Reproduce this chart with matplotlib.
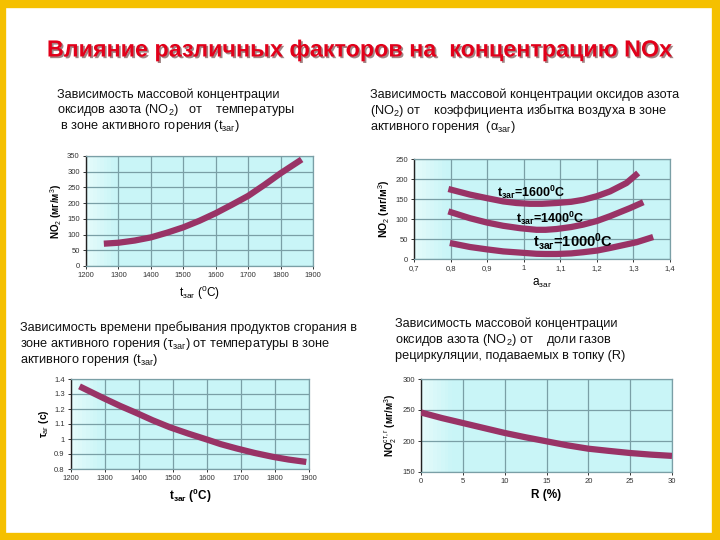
import matplotlib
matplotlib.use("Agg")
import matplotlib.pyplot as plt
import numpy as np
from matplotlib.patches import Rectangle
import matplotlib.patheffects as pe

plt.rcParams['font.family'] = ['Liberation Sans', 'DejaVu Sans']
plt.rcParams['mathtext.fontset'] = 'custom'
plt.rcParams['mathtext.rm'] = 'Liberation Sans'
plt.rcParams['mathtext.it'] = 'Liberation Sans'
plt.rcParams['mathtext.bf'] = 'Liberation Sans:bold'

# ---- data ----
tl_x = [1255, 1300, 1350, 1400, 1450, 1500, 1550, 1600, 1650, 1700, 1750, 1800, 1865]
tl_y = [71, 74, 81, 91, 106, 123, 144, 168, 195, 223, 258, 295, 339]

tr_x1 = [0.794, 0.853, 0.90, 0.944, 0.98, 1.017, 1.05, 1.09, 1.13, 1.163, 1.20, 1.236, 1.281, 1.313]
tr_y1 = [175, 161, 152, 144, 140, 138, 138, 140, 143, 148, 157, 169, 190, 215]
tr_x2 = [0.794, 0.853, 0.90, 0.944, 0.99, 1.035, 1.06, 1.09, 1.13, 1.163, 1.20, 1.236, 1.29, 1.327]
tr_y2 = [119, 102, 91, 83, 77, 73, 73, 75, 80, 86, 95, 107, 127, 142]
tr_x3 = [0.798, 0.853, 0.90, 0.944, 0.99, 1.035, 1.06, 1.09, 1.13, 1.163, 1.20, 1.236, 1.309, 1.354]
tr_y3 = [40, 30, 24, 19, 16, 13, 12.5, 12.5, 14, 17, 21, 27.5, 42, 55]
tr_labels = [r'$\mathbf{t_{заг}}$=1600$\mathbf{^0}$C', r'$\mathbf{t_{заг}}$=1400$\mathbf{^0}$C',
             r'$\mathbf{t_{заг}}$=1000$\mathbf{^0}$C']

bl_x = [1225, 1260, 1296, 1345, 1394, 1440, 1491, 1545, 1599, 1640, 1687, 1740, 1794, 1840, 1892]
bl_y = [1.351, 1.312, 1.272, 1.220, 1.172, 1.125, 1.078, 1.036, 0.997, 0.966, 0.937, 0.907, 0.881, 0.863, 0.847]

br_x = [0, 2.5, 5, 7.5, 10, 12.5, 15, 17.5, 20, 22.5, 25, 27.5, 30]
br_y = [246, 237, 229, 221, 213, 206, 199.5, 193, 187.6, 184, 180.6, 178, 176]

LINE = '#993366'
GRID = '#7a9fa6'
BG = '#c9f5f7'

fig = plt.figure(figsize=(7.2, 5.4), dpi=100)
fig.patch.set_facecolor('white')

# yellow slide frame
fig.add_artist(Rectangle((0.003, 0.005), 0.991, 0.988, transform=fig.transFigure,
                         fill=False, edgecolor='#f5c000', linewidth=6))

fig.text(0.5, 1 - 50 / 540, 'Влияние различных факторов на  концентрацию NOx',
         ha='center', va='center', fontsize=16.8, fontweight='bold', color='#e2001a',
         path_effects=[pe.withSimplePatchShadow(offset=(1.2, -1.2), shadow_rgbFace='#552222', alpha=0.55)])


def cap(x, ys, lines, fs=9.2):
    for y, t in zip(ys, lines):
        fig.text(x / 720, 1 - y / 540, t, ha='left', va='center', fontsize=fs, color='#111111')


cap(57, [95, 110, 126], ['Зависимость массовой концентрации',
                         r'оксидов азота (NO$_2$)   от    температуры',
                         r' в зоне активного горения (t$_{заг}$)'])
cap(370, [95, 111, 127], ['Зависимость массовой концентрации оксидов азота',
                          r'(NO$_2$) от    коэффициента избытка воздуха в зоне',
                          r'активного горения  (α$_{заг}$)'])
cap(20, [328, 344, 360], ['Зависимость времени пребывания продуктов сгорания в',
                          r'зоне активного горения (τ$_{заг}$) от температуры в зоне',
                          r'активного горения (t$_{заг}$)'])
cap(395, [324, 340, 356], ['Зависимость массовой концентрации',
                           r'оксидов азота (NO$_2$) от    доли газов',
                           'рециркуляции, подаваемых в топку (R)'])


def mkax(px):
    l, r, t, b = px
    ax = fig.add_axes([l / 720, 1 - b / 540, (r - l) / 720, (b - t) / 540])
    ax.set_facecolor(BG)
    grad = np.linspace(0, 1, 64).reshape(1, -1)
    grad = np.clip(grad * 8, 0, 1)
    ax.imshow(grad, extent=[0, 1, 0, 1], transform=ax.transAxes, aspect='auto',
              cmap=matplotlib.colors.LinearSegmentedColormap.from_list('g', ['#e4fbfb', BG]),
              zorder=0)
    ax.grid(True, color=GRID, linewidth=0.9, zorder=1)
    ax.set_axisbelow(True)
    for s in ['top', 'right', 'bottom']:
        ax.spines[s].set_color(GRID)
        ax.spines[s].set_linewidth(0.9)
    ax.spines['left'].set_color('#222222')
    ax.spines['left'].set_linewidth(1.0)
    ax.tick_params(labelsize=5.5, colors='#333333', length=2.5, width=0.7, pad=2)
    return ax


# top-left
ax1 = mkax((86, 313, 156, 266))
ax1.plot(tl_x, tl_y, color=LINE, lw=4.5, solid_capstyle='butt', zorder=3)
ax1.set_xlim(1200, 1900)
ax1.set_ylim(0, 350)
ax1.set_xticks(range(1200, 1901, 100))
ax1.set_yticks(range(0, 351, 50))
ax1.set_xlabel(r't$_{заг}$ ($^0$C)', fontsize=8.5, labelpad=3)
ax1.set_ylabel(r'NO$_2$ (мг/м$^3$)', fontsize=7, fontweight='bold', labelpad=2)

# top-right
ax2 = mkax((414, 670, 159, 259))
for xs, ys in [(tr_x1, tr_y1), (tr_x2, tr_y2), (tr_x3, tr_y3)]:
    ax2.plot(xs, ys, color=LINE, lw=4.5, solid_capstyle='butt', zorder=3)
ax2.set_xlim(0.7, 1.4)
ax2.set_ylim(0, 250)
xt = [0.7, 0.8, 0.9, 1.0, 1.1, 1.2, 1.3, 1.4]
ax2.set_xticks(xt)
ax2.set_xticklabels(['0,7', '0,8', '0,9', '1', '1,1', '1,2', '1,3', '1,4'])
ax2.set_yticks(range(0, 251, 50))
ax2.set_xlabel(r'a$_{заг}$', fontsize=8.5, labelpad=3)
ax2.set_ylabel(r'NO$_2$ (мг/м$^3$)', fontsize=7.5, fontweight='bold', labelpad=2)
ax2.text(0.926, 166, tr_labels[0], fontsize=9, fontweight='bold', va='center', ha='left', zorder=4)
ax2.text(0.98, 101, tr_labels[1], fontsize=9, fontweight='bold', va='center', ha='left', zorder=4)
ax2.text(1.025, 45, tr_labels[2], fontsize=10.5, fontweight='bold', va='center', ha='left', zorder=4)

# bottom-left
ax3 = mkax((71, 309, 379, 469))
ax3.plot(bl_x, bl_y, color=LINE, lw=4.5, solid_capstyle='butt', zorder=3)
ax3.set_xlim(1200, 1900)
ax3.set_ylim(0.8, 1.4)
ax3.set_xticks(range(1200, 1901, 100))
yt = [0.8, 0.9, 1.0, 1.1, 1.2, 1.3, 1.4]
ax3.set_yticks(yt)
ax3.set_yticklabels(['0.8', '0.9', '1', '1.1', '1.2', '1.3', '1.4'])
ax3.set_xlabel(r'$\mathbf{t_{заг}}$ ($\mathbf{^0}$C)', fontsize=8.5, fontweight='bold', labelpad=3)
ax3.set_ylabel(r'τ$_{аг}$ (с)', fontsize=7.5, fontweight='bold', labelpad=2)

# bottom-right
ax4 = mkax((421, 672, 379, 472))
ax4.plot(br_x, br_y, color=LINE, lw=4.5, solid_capstyle='butt', zorder=3)
ax4.set_xlim(0, 30)
ax4.set_ylim(150, 300)
ax4.set_xticks(range(0, 31, 5))
ax4.set_yticks(range(150, 301, 50))
ax4.set_xlabel('R (%)', fontsize=8.5, fontweight='bold', labelpad=3)
ax4.set_ylabel(r'NO$_2^{ст,г}$ (мг/м$^3$)', fontsize=7, fontweight='bold', labelpad=2)

fig.savefig('out.png', dpi=100, facecolor='white')
